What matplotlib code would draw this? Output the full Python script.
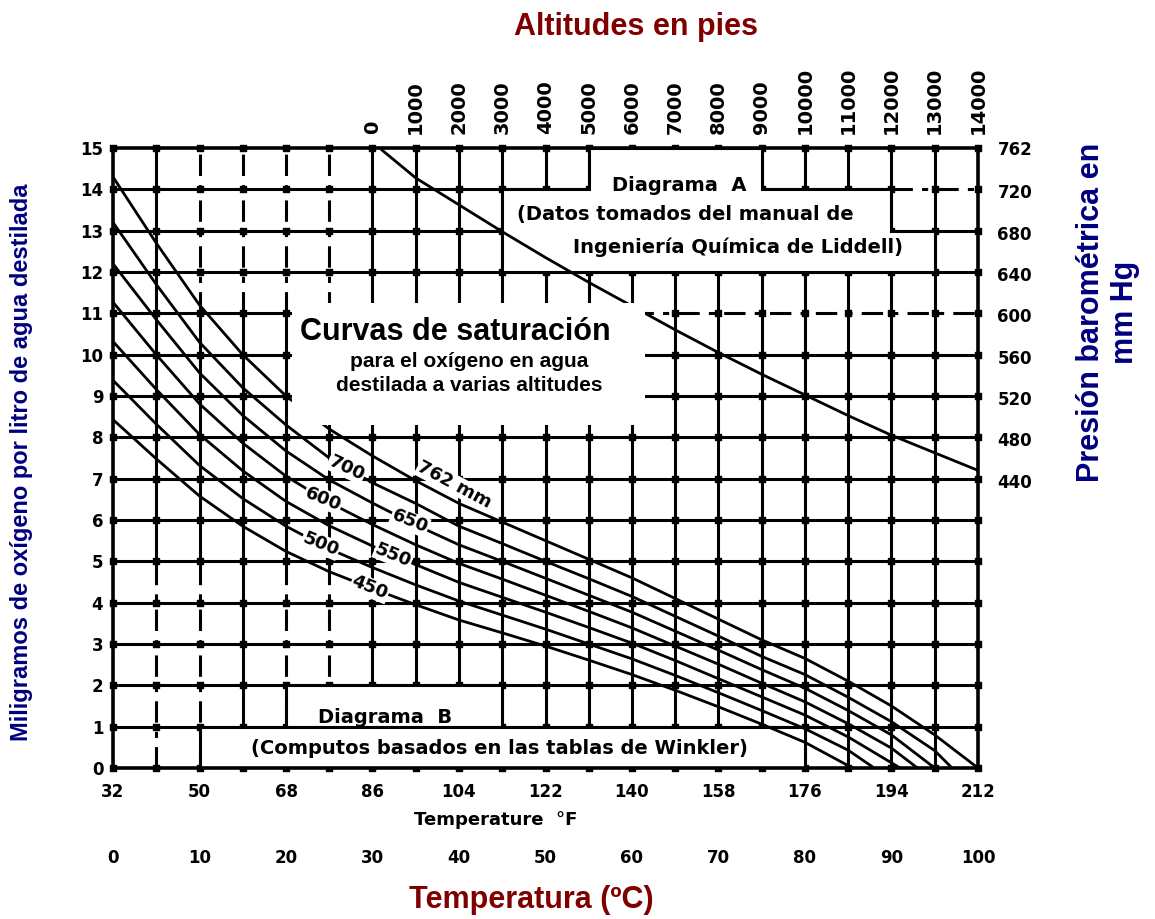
#!/bin/python3

import numpy as np
import matplotlib
matplotlib.use('Agg')
import matplotlib.pyplot as plt
import matplotlib.transforms as mtransforms
from matplotlib.patches import Polygon, Rectangle

################################################
# values
################################################
# bottom scale: deg C positions with the deg F labels printed on the axis
tempTicksC = [0, 10, 20, 30, 40, 50, 60, 70, 80, 90, 100]
tempTicksF = ['32', '50', '68', '86', '104', '122', '140', '158', '176', '194', '212']
mgTicks = list(range(0, 16))

# top scale (feet) and right scale (mm Hg)
altTicks = [0, 1000, 2000, 3000, 4000, 5000, 6000, 7000, 8000, 9000, 10000, 11000, 12000, 13000, 14000]
pressTicks = [762, 720, 680, 640, 600, 560, 520, 480, 440]

# Diagrama A: barometric pressure vs altitude
altFt = [220, 1000, 2000, 3000, 4000, 5000, 6000, 7000, 8000, 9000, 10000, 11000, 12000, 13000, 14000]
pressMm = [760, 733, 707, 681, 656, 632, 609, 586, 564, 543, 523, 503, 484, 467, 450]

# Diagrama B: oxygen saturation (mg/l) vs temperature (C), one curve per pressure
t762 = [0, 5, 10, 15, 20, 25, 30, 35, 40, 45, 50, 55, 60, 65, 70, 75, 80, 85, 90, 95, 100]
do762 = [14.3, 12.7, 11.2, 10.0, 9.0, 8.2, 7.55, 6.95, 6.4, 5.95, 5.5, 5.05, 4.6, 4.1, 3.6, 3.1, 2.65, 2.1, 1.5, 0.8, 0.0]
t700 = [0, 5, 10, 15, 20, 25, 30, 35, 40, 45, 50, 55, 60, 65, 70, 75, 80, 85, 90, 95, 97]
do700 = [13.2, 11.7, 10.3, 9.2, 8.3, 7.5, 6.9, 6.4, 5.85, 5.43, 5.0, 4.58, 4.15, 3.67, 3.19, 2.7, 2.26, 1.71, 1.12, 0.42, 0.0]
t650 = [0, 5, 10, 15, 20, 25, 30, 35, 40, 45, 50, 55, 60, 65, 70, 75, 80, 85, 90, 95]
do650 = [12.2, 10.85, 9.56, 8.53, 7.67, 6.97, 6.41, 5.88, 5.4, 5.0, 4.59, 4.18, 3.77, 3.31, 2.85, 2.38, 1.93, 1.39, 0.8, 0.0]
t600 = [0, 5, 10, 15, 20, 25, 30, 35, 40, 45, 50, 55, 60, 65, 70, 75, 80, 85, 90, 93]
do600 = [11.27, 10.0, 8.81, 7.86, 7.06, 6.42, 5.89, 5.4, 4.95, 4.57, 4.18, 3.79, 3.39, 2.95, 2.51, 2.05, 1.6, 1.07, 0.48, 0.0]
t550 = [0, 5, 10, 15, 20, 25, 30, 35, 40, 45, 50, 55, 60, 65, 70, 75, 80, 85, 91]
do550 = [10.32, 9.16, 8.07, 7.19, 6.45, 5.86, 5.37, 4.92, 4.49, 4.13, 3.77, 3.4, 3.02, 2.6, 2.16, 1.72, 1.28, 0.75, 0.0]
t500 = [0, 5, 10, 15, 20, 25, 30, 35, 40, 45, 50, 55, 60, 65, 70, 75, 80, 85, 88]
do500 = [9.38, 8.32, 7.32, 6.52, 5.85, 5.3, 4.85, 4.43, 4.04, 3.7, 3.36, 3.0, 2.64, 2.24, 1.82, 1.39, 0.95, 0.43, 0.0]
t450 = [0, 5, 10, 15, 20, 25, 30, 35, 40, 45, 50, 55, 60, 65, 70, 75, 80, 85.5]
do450 = [8.43, 7.48, 6.58, 5.85, 5.24, 4.75, 4.34, 3.95, 3.58, 3.27, 2.95, 2.61, 2.26, 1.88, 1.48, 1.06, 0.62, 0.0]

curveLabels = ['762 mm', '700', '650', '600', '550', '500', '450']

RED = '#800000'
NAVY = '#000080'
TITLEFONT = ['Liberation Sans', 'DejaVu Sans']

################################################
# scale conversions (chart axes are linear)
################################################
def cToAlt(c):
    return (np.asarray(c) - 30.0) * 200.0

def altToC(a):
    return 30.0 + np.asarray(a) / 200.0

def mgToMm(y):
    return 162.0 + 40.0 * np.asarray(y)

def mmToMg(p):
    return (np.asarray(p) - 162.0) / 40.0

################################################
################################################
def splitRange(lo, hi, cuts):
    #return the solid pieces of [lo,hi] once the dashed cuts are removed
    pieces = []
    start = lo
    for a, b in sorted(cuts):
        if a > start:
            pieces.append((start, a))
        start = max(start, b)
    if start < hi:
        pieces.append((start, hi))
    return pieces

################################################
################################################
def addGrid(axis):

    lw = 2.2
    dash = (0, (7, 3, 2, 3))
    #dash-dot pieces of the printed grid: (position, start, end)
    dashedV = [(10, 11, 15), (15, 11, 15), (20, 11, 15), (25, 11, 15),
               (5, 0, 5), (10, 0, 5), (20, 0, 5), (25, 0, 5)]
    dashedH = [(11, 60, 100), (14, 90, 100)]

    for x in range(5, 100, 5):
        cuts = [(a, b) for (p, a, b) in dashedV if p == x]
        for a, b in splitRange(0, 15, cuts):
            axis.plot([x, x], [a, b], color='black', lw=lw, zorder=1, solid_capstyle='butt')
        for a, b in cuts:
            axis.plot([x, x], [a, b], color='black', lw=lw, ls=dash, zorder=1)

    for y in range(1, 15):
        cuts = [(a, b) for (p, a, b) in dashedH if p == y]
        for a, b in splitRange(0, 100, cuts):
            axis.plot([a, b], [y, y], color='black', lw=lw, zorder=1, solid_capstyle='butt')
        for a, b in cuts:
            axis.plot([a, b], [y, y], color='black', lw=lw, ls=dash, zorder=1)

    #blobs at the crossings
    gx, gy = np.meshgrid(np.arange(0, 101, 5), np.arange(0, 16, 1))
    axis.scatter(gx.ravel(), gy.ravel(), marker='s', s=14, color='black', zorder=1.2, clip_on=False)

    for s in axis.spines.values():
        s.set_linewidth(2.6)
        s.set_zorder(3)

################################################
################################################
def addBoxes(axis):

    #Diagrama A label area
    boxA = Polygon([(45, 12), (45, 14), (55, 14), (55, 15), (75, 15), (75, 14),
                    (90, 14), (90, 13), (95, 13), (95, 12)],
                   closed=True, fc='white', ec='black', lw=2.2, zorder=2)
    axis.add_patch(boxA)
    #Diagrama B label area
    axis.add_patch(Rectangle((20, 1), 25, 1, fc='white', ec='black', lw=2.2, zorder=2))
    axis.add_patch(Rectangle((10, 0), 70, 1, fc='white', ec='black', lw=2.2, zorder=2))

    txt = dict(fontsize=14, fontweight='bold', color='black', zorder=6, ha='center', va='center')
    axis.text(65.5, 14.1, 'Diagrama  A', **txt)
    axis.text(66.2, 13.38, '(Datos tomados del manual de', **txt)
    axis.text(72.2, 12.6, 'Ingeniería Química de Liddell)', **txt)
    axis.text(31.4, 1.22, 'Diagrama  B', **txt)
    axis.text(44.7, 0.48, '(Computos basados en las tablas de Winkler)', **txt)

################################################
################################################
def addDiagramA(axis):

    axis.plot(altToC(altFt), mmToMg(pressMm), color='black', lw=2.0, zorder=4)

################################################
################################################
def addDiagramB(axis):

    curves = [(t762, do762), (t700, do700), (t650, do650), (t600, do600),
              (t550, do550), (t500, do500), (t450, do450)]
    for t, v in curves:
        axis.plot(t, v, color='black', lw=2.0, zorder=4, solid_capstyle='butt')

    #labels written along the curves
    spots = [(39.5, 6.85, -28), (27.0, 7.26, -25), (34.3, 5.96, -22), (24.3, 6.51, -22),
             (32.4, 5.15, -22), (24.0, 5.41, -22), (29.7, 4.36, -22)]
    for lab, (x, y, rot) in zip(curveLabels, spots):
        axis.text(x, y, lab, rotation=rot, fontsize=13, fontweight='bold',
                  ha='center', va='center', zorder=4.5, rotation_mode='anchor',
                  bbox=dict(boxstyle='square,pad=0.05', fc='white', ec='none'))

################################################
################################################
def addOverlay(axis):

    #white card with the chart title
    axis.add_patch(Rectangle((20.7, 8.3), 40.8, 2.96, fc='white', ec='none', zorder=5))
    axis.text(39.6, 10.56, 'Curvas de saturación', fontsize=22, fontweight='bold',
              family=TITLEFONT, ha='center', va='center', zorder=6)
    axis.text(41.2, 9.83, 'para el oxígeno en agua', fontsize=15, fontweight='bold',
              family=TITLEFONT, ha='center', va='center', zorder=6)
    axis.text(41.2, 9.25, 'destilada a varias altitudes', fontsize=15, fontweight='bold',
              family=TITLEFONT, ha='center', va='center', zorder=6)

################################################
################################################
def addScales(fig, axis):

    tickFont = dict(fontsize=12, fontweight='bold')

    axis.set_xlim(0, 100)
    axis.set_ylim(0, 15)
    axis.set_xticks(tempTicksC, tempTicksF, **tickFont)
    axis.set_yticks(mgTicks, [str(m) for m in mgTicks], **tickFont)
    axis.tick_params(length=0)
    axis.tick_params(axis='x', pad=11)
    axis.tick_params(axis='y', pad=7)

    #second row of the bottom scale, in deg C
    trans = mtransforms.blended_transform_factory(axis.transData, axis.transAxes)
    for c in tempTicksC:
        axis.text(c, -0.145, str(c), transform=trans, ha='center', va='center', **tickFont)
    axis.text(44.2, -0.084, 'Temperature  °F', transform=trans, ha='center', va='center',
              fontsize=13, fontweight='bold')

    #altitude along the top
    top = axis.secondary_xaxis('top', functions=(cToAlt, altToC))
    top.set_xticks(altTicks, [str(a) for a in altTicks], rotation=90, fontsize=14, fontweight='bold')
    top.tick_params(length=0, pad=10)
    top.spines['top'].set_visible(False)

    #barometric pressure along the right side
    right = axis.secondary_yaxis('right', functions=(mgToMm, mmToMg))
    right.set_yticks(pressTicks, [str(p) for p in pressTicks], **tickFont)
    right.tick_params(length=0, pad=14)
    right.spines['right'].set_visible(False)

    #coloured titles
    fig.text(0.5507, 0.9706, 'Altitudes en pies', color=RED, fontsize=22, fontweight='bold',
             family=TITLEFONT, ha='center', va='center')
    fig.text(0.4597, 0.0207, 'Temperatura (ºC)', color=RED, fontsize=22, fontweight='bold',
             family=TITLEFONT, ha='center', va='center')
    fig.text(0.0182, 0.497, 'Miligramos de oxígeno por litro de agua destilada', color=NAVY,
             fontsize=17, fontweight='bold', family=TITLEFONT, rotation=90, ha='center', va='center')
    fig.text(0.9593, 0.6605, 'Presión barométrica en\nmm Hg', color=NAVY, fontsize=22,
             fontweight='bold', family=TITLEFONT, rotation=90, ha='center', va='center',
             multialignment='center')

################################################
################################################
def makePlots():

    fig = plt.figure(figsize=(11.55, 9.19), dpi=100)
    ax = fig.add_axes([113 / 1155, 1 - 768 / 919, 865 / 1155, 620 / 919])

    addGrid(ax)
    addBoxes(ax)
    addDiagramA(ax)
    addDiagramB(ax)
    addOverlay(ax)
    addScales(fig, ax)

    plt.savefig('out.png', dpi=100)

#############################################
if __name__ == '__main__':
    makePlots()
